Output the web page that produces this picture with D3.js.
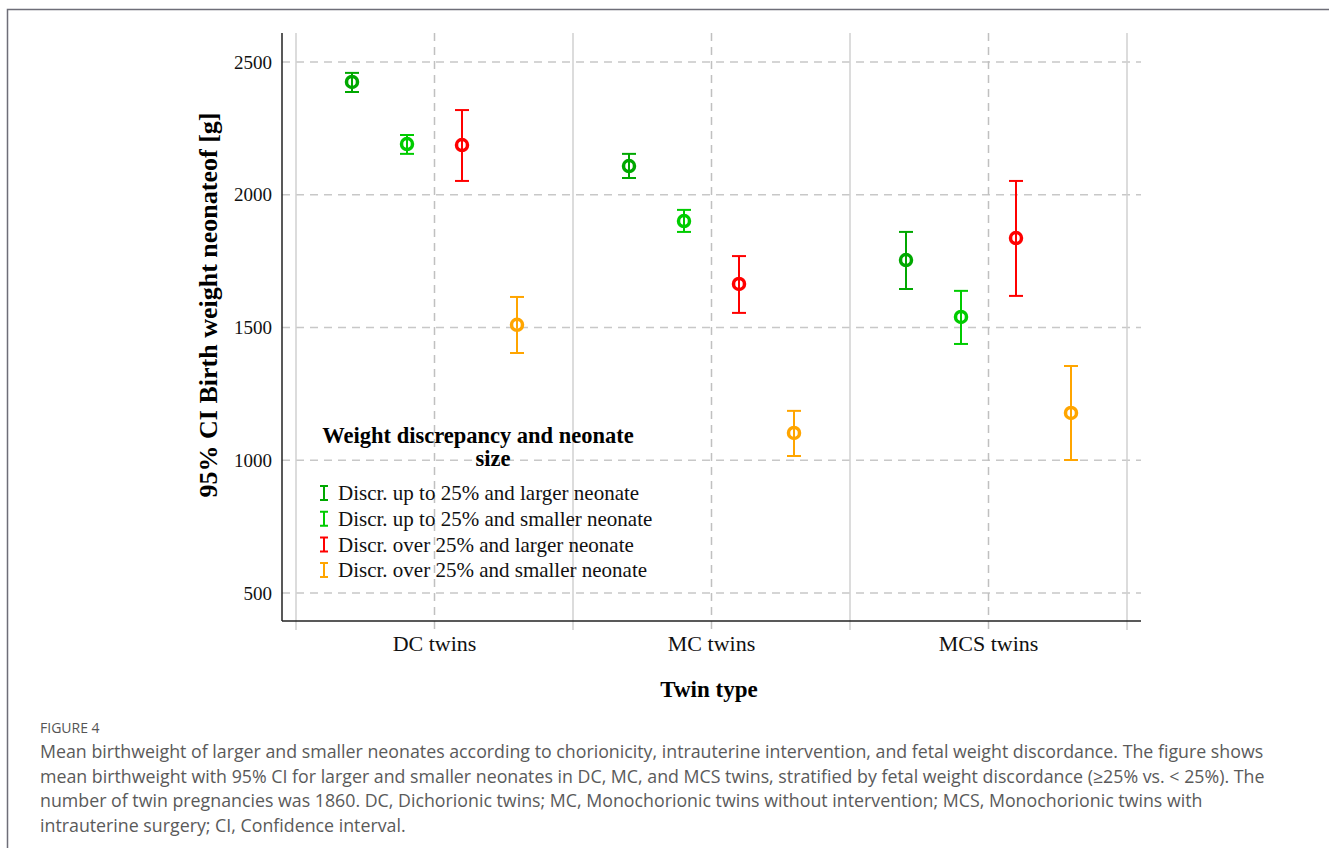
<!DOCTYPE html>
<html>
<head>
<meta charset="utf-8">
<script src="https://cdn.jsdelivr.net/npm/d3@7"></script>
<style>
  html, body { margin: 0; padding: 0; background: #fff; }
  svg { display: block; }
</style>
</head>
<body>
<div id="chart"></div>
<script>
'use strict';

// twin types along the x axis
var twinTypes = ["DC twins", "MC twins", "MCS twins"];

// groups drawn inside each twin type, left to right
var groups = [
  "Discr. up to 25% and larger neonate",
  "Discr. up to 25% and smaller neonate",
  "Discr. over 25% and larger neonate",
  "Discr. over 25% and smaller neonate"
];
var groupColors = ["#00a800", "#00cc00", "#ff0000", "#ffa500"];

// mean birth weight [g], one row per twin type, one value per group
var means = [
  [2425, 2191, 2187, 1510],
  [2108, 1901, 1664, 1103],
  [1754, 1540, 1837, 1178]
];
var lower = [
  [2387, 2154, 2052, 1404],
  [2063, 1860, 1555, 1016],
  [1645, 1438, 1619, 1001]
];
var upper = [
  [2459, 2225, 2319, 1615],
  [2154, 1943, 1769, 1186],
  [1860, 1638, 2052, 1355]
];

var yTicks = [500, 1000, 1500, 2000, 2500];

var captionLines = [
  "Mean birthweight of larger and smaller neonates according to chorionicity, intrauterine intervention, and fetal weight discordance. The figure shows",
  "mean birthweight with 95% CI for larger and smaller neonates in DC, MC, and MCS twins, stratified by fetal weight discordance (\u226525% vs. < 25%). The",
  "number of twin pregnancies was 1860. DC, Dichorionic twins; MC, Monochorionic twins without intervention; MCS, Monochorionic twins with",
  "intrauterine surgery; CI, Confidence interval."
];

(function() {
    var W = 1329, H = 848;
    var serif = "'Liberation Serif', 'Times New Roman', serif";
    var sans = "'Open Sans', Lato, sans-serif";

    var svg = d3.select("#chart").append("svg")
        .attr("width", W)
        .attr("height", H);

    // frame round the figure
    svg.append("path")
        .attr("d", "M7.5," + H + " V9.5 H" + W)
        .attr("fill", "none")
        .attr("stroke", "#6e6e78")
        .attr("stroke-width", 1.5);

    var plot = { left: 282, right: 1141, top: 33, bottom: 621 };

    var x = d3.scaleBand()
        .domain(twinTypes)
        .range([296, 1127])
        .padding(0);

    var y = d3.scaleLinear()
        .domain([500, 2500])
        .range([593, 62]);

    var inner = d3.scalePoint()
        .domain(groups)
        .range([-82.5, 82.5]);

    var g = svg.append("g");

    // horizontal dashed grid
    g.selectAll("line.hgrid")
        .data(yTicks)
        .enter().append("line")
        .attr("class", "hgrid")
        .attr("x1", plot.left).attr("x2", plot.right)
        .attr("y1", function (d) { return y(d); })
        .attr("y2", function (d) { return y(d); })
        .attr("stroke", "#c8c8c8")
        .attr("stroke-width", 1.5)
        .attr("stroke-dasharray", "8,6");

    // solid separators between twin types
    var bounds = twinTypes.map(function (t) { return x(t); }).concat([x.range()[1]]);
    g.selectAll("line.sep")
        .data(bounds)
        .enter().append("line")
        .attr("class", "sep")
        .attr("x1", function (d) { return d; })
        .attr("x2", function (d) { return d; })
        .attr("y1", plot.top).attr("y2", plot.bottom + 9)
        .attr("stroke", "#d0d0d0")
        .attr("stroke-width", 1.5);

    // dashed lines at each twin type centre
    g.selectAll("line.mid")
        .data(twinTypes)
        .enter().append("line")
        .attr("class", "mid")
        .attr("x1", function (d) { return x(d) + x.bandwidth() / 2; })
        .attr("x2", function (d) { return x(d) + x.bandwidth() / 2; })
        .attr("y1", plot.top).attr("y2", plot.bottom + 9)
        .attr("stroke", "#c0c0c0")
        .attr("stroke-width", 1.5)
        .attr("stroke-dasharray", "8,6");

    // axis lines
    g.append("line")
        .attr("x1", plot.left).attr("x2", plot.left)
        .attr("y1", plot.top).attr("y2", plot.bottom)
        .attr("stroke", "#222").attr("stroke-width", 1.5);
    g.append("line")
        .attr("x1", plot.left).attr("x2", plot.right)
        .attr("y1", plot.bottom).attr("y2", plot.bottom)
        .attr("stroke", "#222").attr("stroke-width", 1.5);

    // y tick labels
    g.selectAll("text.ytick")
        .data(yTicks)
        .enter().append("text")
        .attr("class", "ytick")
        .attr("x", 272)
        .attr("y", function (d) { return y(d); })
        .attr("dy", "0.35em")
        .attr("text-anchor", "end")
        .style("font-family", serif)
        .style("font-size", "19px")
        .attr("fill", "#111")
        .text(function (d) { return d; });

    // x category labels
    g.selectAll("text.xtick")
        .data(twinTypes)
        .enter().append("text")
        .attr("class", "xtick")
        .attr("x", function (d) { return x(d) + x.bandwidth() / 2; })
        .attr("y", 651)
        .attr("text-anchor", "middle")
        .style("font-family", serif)
        .style("font-size", "22px")
        .attr("fill", "#111")
        .text(function (d) { return d; });

    // axis titles
    svg.append("text")
        .attr("x", 709).attr("y", 697)
        .attr("text-anchor", "middle")
        .style("font-family", serif)
        .style("font-size", "23px")
        .style("font-weight", "bold")
        .text("Twin type");

    svg.append("text")
        .attr("transform", "translate(217,305) rotate(-90)")
        .attr("text-anchor", "middle")
        .style("font-family", serif)
        .style("font-size", "26px")
        .style("font-weight", "bold")
        .text("95% CI Birth weight neonateof [g]");

    // error bars with circle markers
    var rows = [];
    twinTypes.forEach(function (t, i) {
        groups.forEach(function (grp, j) {
            rows.push({
                type: t, group: grp, color: groupColors[j],
                mean: means[i][j], lo: lower[i][j], hi: upper[i][j]
            });
        });
    });

    var cx = function (d) { return x(d.type) + x.bandwidth() / 2 + inner(d.group); };
    var cap = 7;

    var bars = g.selectAll("g.bar")
        .data(rows)
        .enter().append("g")
        .attr("class", "bar");

    bars.append("line")
        .attr("x1", cx).attr("x2", cx)
        .attr("y1", function (d) { return y(d.hi); })
        .attr("y2", function (d) { return y(d.lo); })
        .attr("stroke", function (d) { return d.color; })
        .attr("stroke-width", 2);

    bars.append("line")
        .attr("x1", function (d) { return cx(d) - cap; })
        .attr("x2", function (d) { return cx(d) + cap; })
        .attr("y1", function (d) { return y(d.hi); })
        .attr("y2", function (d) { return y(d.hi); })
        .attr("stroke", function (d) { return d.color; })
        .attr("stroke-width", 2);

    bars.append("line")
        .attr("x1", function (d) { return cx(d) - cap; })
        .attr("x2", function (d) { return cx(d) + cap; })
        .attr("y1", function (d) { return y(d.lo); })
        .attr("y2", function (d) { return y(d.lo); })
        .attr("stroke", function (d) { return d.color; })
        .attr("stroke-width", 2);

    bars.append("circle")
        .attr("cx", cx)
        .attr("cy", function (d) { return y(d.mean); })
        .attr("r", 5.5)
        .attr("fill", "#fff")
        .attr("stroke", function (d) { return d.color; })
        .attr("stroke-width", 3.5);

    bars.append("line")
        .attr("x1", cx).attr("x2", cx)
        .attr("y1", function (d) { return y(d.mean) - 4; })
        .attr("y2", function (d) { return y(d.mean) + 4; })
        .attr("stroke", function (d) { return d.color; })
        .attr("stroke-width", 2);

    // legend
    var leg = svg.append("g");
    leg.append("text")
        .attr("x", 478).attr("y", 443)
        .attr("text-anchor", "middle")
        .style("font-family", serif)
        .style("font-size", "22.5px")
        .style("font-weight", "bold")
        .text("Weight discrepancy and neonate");
    leg.append("text")
        .attr("x", 493).attr("y", 466)
        .attr("text-anchor", "middle")
        .style("font-family", serif)
        .style("font-size", "22.5px")
        .style("font-weight", "bold")
        .text("size");

    var items = leg.selectAll("g.item")
        .data(groups)
        .enter().append("g")
        .attr("class", "item")
        .attr("transform", function (d, i) { return "translate(324," + (493 + i * 25.7) + ")"; });

    items.append("path")
        .attr("d", "M-4,-7 H4 M0,-7 V7 M-4,7 H4")
        .attr("fill", "none")
        .attr("stroke", function (d, i) { return groupColors[i]; })
        .attr("stroke-width", 2);

    items.append("text")
        .attr("x", 14)
        .attr("dy", "0.35em")
        .style("font-family", serif)
        .style("font-size", "21px")
        .attr("fill", "#111")
        .text(function (d) { return d; });

    // caption
    svg.append("text")
        .attr("x", 40).attr("y", 733)
        .style("font-family", sans)
        .style("font-size", "14px")
        .attr("fill", "#555")
        .text("FIGURE 4");

    svg.selectAll("text.cap")
        .data(captionLines)
        .enter().append("text")
        .attr("class", "cap")
        .attr("x", 40)
        .attr("y", function (d, i) { return 758 + i * 24.5; })
        .style("font-family", sans)
        .style("font-size", "17.8px")
        .attr("fill", "#5a5a5a")
        .text(function (d) { return d; });
})();
</script>
</body>
</html>
